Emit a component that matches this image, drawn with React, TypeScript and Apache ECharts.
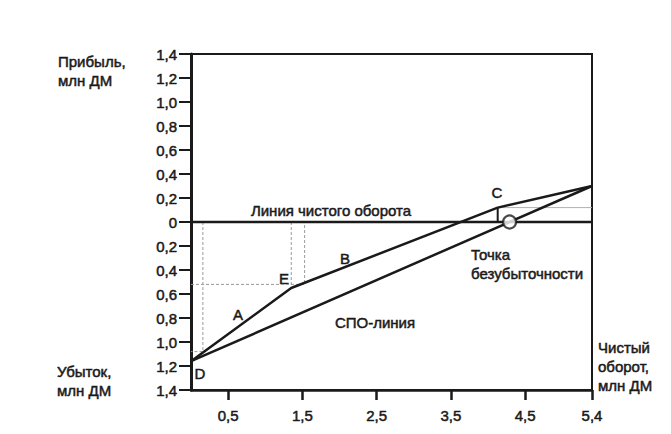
import React, { useEffect, useRef } from "react";
import * as echarts from "echarts";

// X axis: net turnover, mln DM
const xTickValues = [0.5, 1.5, 2.5, 3.5, 4.5, 5.4];
const xMin = 0;
const xMax = 5.4;
// Y axis: profit (+) / loss (-), mln DM
const yMin = -1.4;
const yMax = 1.4;
const yInterval = 0.2;

// СПО-линия (straight line from fixed-cost loss to full profit)
const spoLine = [
  [0, -1.16],
  [5.4, 0.3],
];
// Profit contribution by product groups: D -> E -> C -> end
const groupLine = [
  [0, -1.16],
  [1.35, -0.55],
  [4.13, 0.12],
  [5.4, 0.3],
];
// Линия чистого оборота (zero profit)
const netTurnoverLine = [
  [0, 0],
  [5.4, 0],
];
// Vertical drop from point C
const cDrop = [
  [4.13, 0.12],
  [4.13, 0],
];
// Break-even point
const breakEven = [[4.29, 0]];
// Thin reference guides
const guideD = [
  [0.16, 0],
  [0.16, -1.08],
  [0, -1.08],
];
const guideE = [
  [1.35, 0],
  [1.35, -0.55],
];
const guideB = [
  [0, -0.52],
  [1.53, -0.52],
  [1.53, 0],
];
const guideC = [
  [4.13, 0.12],
  [5.4, 0.12],
];

const FONT = "'Liberation Sans', Arial, sans-serif";
const INK = "#1a1a1a";

export default function App() {
  const ref = useRef<HTMLDivElement>(null);
  useEffect(() => {
    if (!ref.current) return;
    const chart = echarts.init(ref.current, null, { renderer: "svg" });
    const lineStyle = { color: INK, width: 2.5 };
    const guideStyle = { color: "#9a9a9a", width: 1, type: [3, 2] as any };
    const mk = (data: number[][], ls: any, z = 3) => ({
      type: "line",
      data,
      symbol: "none",
      lineStyle: ls,
      silent: true,
      z,
    });
    const txt = (x: number, y: number, text: string, extra: any = {}) => ({
      type: "text",
      x,
      y,
      style: {
        text,
        font: `15px ${FONT}`,
        fill: INK,
        stroke: INK,
        lineWidth: 0.5,
        textVerticalAlign: "middle",
        lineHeight: 19,
        ...extra,
      },
    });
    const labelCommon = {
      fontSize: 15,
      fontFamily: FONT,
      color: INK,
      textBorderColor: INK,
      textBorderWidth: 0.5,
    };
    chart.setOption({
      animation: false,
      backgroundColor: "#ffffff",
      grid: {
        left: 191,
        right: 79,
        top: 54,
        bottom: 44,
        show: true,
        borderColor: INK,
        borderWidth: 2,
      },
      xAxis: {
        type: "value",
        min: xMin,
        max: xMax,
        splitLine: { show: false },
        axisLine: { onZero: false, lineStyle: { color: INK, width: 2.5 } },
        axisTick: {
          customValues: xTickValues,
          length: 10,
          lineStyle: { color: INK, width: 2.5 },
        },
        axisLabel: {
          ...labelCommon,
          customValues: xTickValues,
          margin: 18,
          formatter: (v: number) => v.toFixed(1).replace(".", ","),
        },
      },
      yAxis: {
        type: "value",
        min: yMin,
        max: yMax,
        interval: yInterval,
        splitLine: { show: false },
        axisLine: { onZero: false, lineStyle: { color: INK, width: 3 } },
        axisTick: { length: 12, lineStyle: { color: INK, width: 2 } },
        axisLabel: {
          ...labelCommon,
          margin: 14,
          formatter: (v: number) => {
            const a = Math.abs(v);
            return a < 1e-9 ? "0" : a.toFixed(1).replace(".", ",");
          },
        },
      },
      series: [
        mk(guideD, guideStyle, 1),
        mk(guideE, guideStyle, 1),
        mk(guideB, guideStyle, 1),
        mk(guideC, { color: "#b0b0b0", width: 1 }, 1),
        mk(netTurnoverLine, lineStyle),
        mk(cDrop, { color: INK, width: 2 }),
        mk(spoLine, lineStyle),
        mk(groupLine, lineStyle),
        {
          type: "scatter",
          data: breakEven,
          symbol: "circle",
          symbolSize: 13,
          itemStyle: { color: "#ffffff", borderColor: INK, borderWidth: 2.2 },
          silent: true,
          z: 5,
        },
      ],
      graphic: [
        txt(58, 52, "Прибыль,\nмлн ДМ", { textVerticalAlign: "top" }),
        txt(57, 362, "Убыток,\nмлн ДМ", { textVerticalAlign: "top" }),
        txt(598, 338, "Чистый\nоборот,\nмлн ДМ", { textVerticalAlign: "top" }),
        txt(331, 210, "Линия чистого оборота", { textAlign: "center" }),
        txt(471, 245, "Точка\nбезубыточности", { textVerticalAlign: "top" }),
        txt(375, 322, "СПО-линия", { textAlign: "center" }),
        txt(238, 314, "A", { textAlign: "center" }),
        txt(284, 278, "E", { textAlign: "center" }),
        txt(345, 258, "B", { textAlign: "center" }),
        txt(497, 192, "C", { textAlign: "center" }),
        txt(200, 373, "D", { textAlign: "center" }),
      ],
    });
    return () => chart.dispose();
  }, []);
  return <div ref={ref} style={{ width: 671, height: 434, margin: -8 }} />;
}
